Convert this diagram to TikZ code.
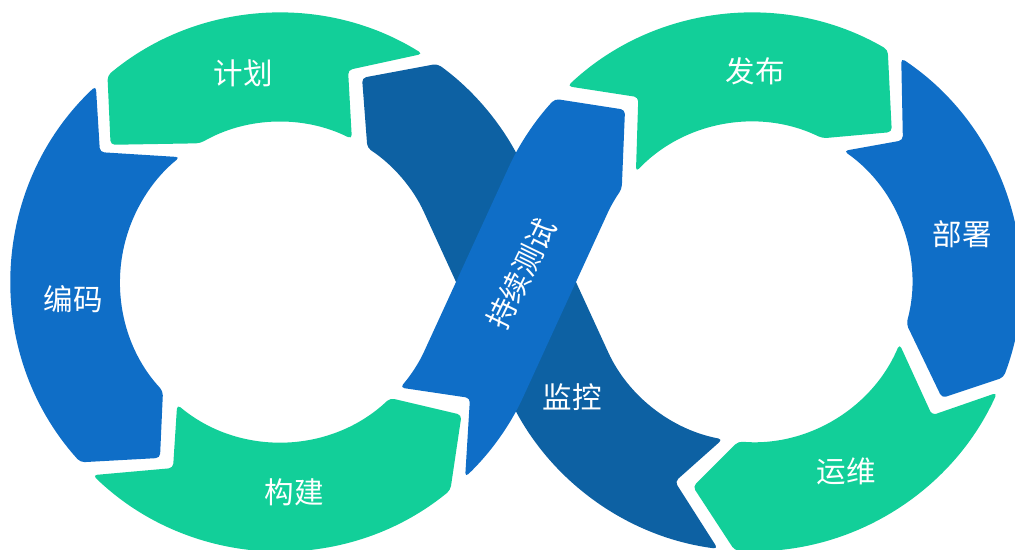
\documentclass[tikz,border=0pt]{standalone}
\usepackage{fontspec}
\newfontfamily\cjk{Noto Sans CJK SC}

\begin{document}
\begin{tikzpicture}[x=0.025cm,y=0.025cm,
  lbl/.style={text=white,font=\cjk\fontsize{21}{25}\selectfont,inner sep=0pt},
  seg/.style={rounded corners=3pt}]
%
\useasboundingbox (0,0) rectangle (1015,550);
\clip (0,0) rectangle (1015,550);
%
\definecolor{cgreen}{rgb}{0.07,0.81,0.60}
\definecolor{cblue}{rgb}{0.06,0.43,0.78}
\definecolor{cdark}{rgb}{0.05,0.38,0.64}
%
\coordinate (cL) at (280,268);
\coordinate (cR) at (752,268);
%
% left loop
\begin{scope}[shift={(cL)}]
\fill[cgreen,seg] (58.0:269) arc[start angle=58.0,end angle=129.9,radius=269] -- (141.0:218) -- (119.9:160) arc[start angle=119.9,end angle=63.3,radius=160] -- (72.2:222.6) -- cycle;
\fill[cblue,seg] (133.2:269) arc[start angle=133.2,end angle=222.1,radius=269] -- (235.7:213) -- (223.0:160) arc[start angle=223.0,end angle=128.7,radius=160] -- (144.2:222) -- cycle;
\fill[cgreen,seg] (225.9:269) arc[start angle=225.9,end angle=309.3,radius=269] -- (323.8:225) -- (313.5:160) arc[start angle=313.5,end angle=230.0,radius=160] -- (240.1:214.6) -- cycle;
\end{scope}
%
% right loop
\begin{scope}[shift={(cR)}]
\fill[cgreen,seg] (133.3:269) arc[start angle=133.3,end angle=59.7,radius=269] -- (47.0:205) -- (63.9:160) arc[start angle=63.9,end angle=136.5,radius=160] -- (121.6:217) -- cycle;
\fill[cblue,seg] (56.3:269) arc[start angle=56.3,end angle=-20.8,radius=269] -- (-31.4:222.6) -- (-15.2:160) arc[start angle=-15.2,end angle=55.0,radius=160] -- (43.2:207) -- cycle;
\fill[cgreen,seg] (-24.3:269) arc[start angle=-24.3,end angle=-93.7,radius=269] -- (-106.1:213) -- (-94.9:160) arc[start angle=-94.9,end angle=-22.8,radius=160] -- (-36.5:224) -- cycle;
\end{scope}
%
% crossing bands
\fill[cdark,seg] ([shift={(cL)}]54.2:269) arc[start angle=54.2,end angle=24.6,radius=269] -- ([shift={(cR)}]204.6:160) arc[start angle=204.6,end angle=259.4,radius=160] -- ([shift={(cR)}]248.9:214) -- ([shift={(cR)}]262.7:269) arc[start angle=262.7,end angle=204.6,radius=269] -- ([shift={(cL)}]24.6:160) arc[start angle=24.6,end angle=56.9,radius=160] -- ([shift={(cL)}]68.1:220) -- cycle;
\fill[cblue,seg] ([shift={(cL)}]-46.5:269) arc[start angle=-46.5,end angle=-24.6,radius=269] -- ([shift={(cR)}]155.4:160) arc[start angle=155.4,end angle=144.5,radius=160] -- ([shift={(cR)}]126.4:214) -- ([shift={(cR)}]137.1:269) arc[start angle=137.1,end angle=155.4,radius=269] -- ([shift={(cL)}]-24.6:160) arc[start angle=-24.6,end angle=-41.3,radius=160] -- ([shift={(cL)}]-31.4:222.6) -- cycle;
%
\node[lbl] (plan) at (243,477) {计划};
\node[lbl] (code) at (73,251) {编码};
\node[lbl] (build) at (294,58) {构建};
\node[lbl,rotate=64] (test) at (521,276) {持续测试};
\node[lbl] (release) at (755,479) {发布};
\node[lbl] (deploy) at (962,316) {部署};
\node[lbl] (operate) at (846,79) {运维};
\node[lbl] (monitor) at (572,153) {监控};
%
\end{tikzpicture}
\end{document}
